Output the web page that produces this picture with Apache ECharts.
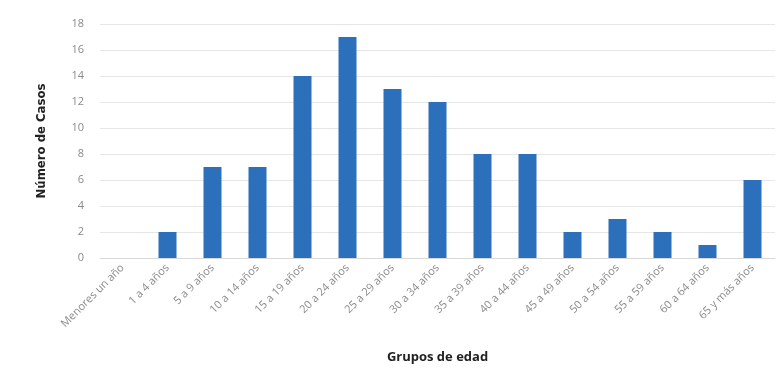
<!DOCTYPE html>
<html>
<head>
<meta charset="utf-8">
<script src="https://cdn.jsdelivr.net/npm/echarts@6/dist/echarts.min.js"></script>
<style>
  html, body { margin: 0; padding: 0; background: #fff; }
  #chart { width: 780px; height: 383px; }
</style>
</head>
<body>
<div id="chart"></div>
<script>
// categorías de edad
var grupos = ['Menores un año', '1 a 4 años', '5 a 9 años', '10 a 14 años', '15 a 19 años',
  '20 a 24 años', '25 a 29 años', '30 a 34 años', '35 a 39 años', '40 a 44 años',
  '45 a 49 años', '50 a 54 años', '55 a 59 años', '60 a 64 años', '65 y más años'];
// número de casos
var casos = [0, 2, 7, 7, 14, 17, 13, 12, 8, 8, 2, 3, 2, 1, 6];

var myChart = echarts.init(document.getElementById('chart'));

var option = {
  animation: false,
  grid: { left: 100, right: 5, top: 24, bottom: 125 },
  xAxis: {
    type: 'category',
    data: grupos,
    name: 'Grupos de edad',
    nameLocation: 'middle',
    nameGap: 93,
    nameTextStyle: { fontFamily: 'Open Sans', fontWeight: 'bold', fontSize: 13, color: '#222' },
    axisLine: { lineStyle: { color: '#d9d9d9' } },
    axisTick: { show: false },
    axisLabel: { rotate: 45, interval: 0, color: '#8a8a8a', fontFamily: 'Open Sans', fontSize: 11, margin: 8 }
  },
  yAxis: {
    type: 'value',
    min: 0,
    max: 18,
    interval: 2,
    name: 'Número de Casos',
    nameLocation: 'middle',
    nameGap: 52,
    nameTextStyle: { fontFamily: 'DejaVu Sans Condensed, sans-serif', fontWeight: 'bold', fontSize: 13, color: '#222' },
    axisLine: { show: false },
    axisTick: { show: false },
    axisLabel: { color: '#8a8a8a', fontFamily: 'Open Sans', fontSize: 11, margin: 16 },
    splitLine: { lineStyle: { color: '#e6e6e6' } }
  },
  series: [{
    type: 'bar',
    data: casos,
    barWidth: '40%',
    itemStyle: { color: '#2c6fbb' }
  }]
};

myChart.setOption(option);
</script>
</body>
</html>
